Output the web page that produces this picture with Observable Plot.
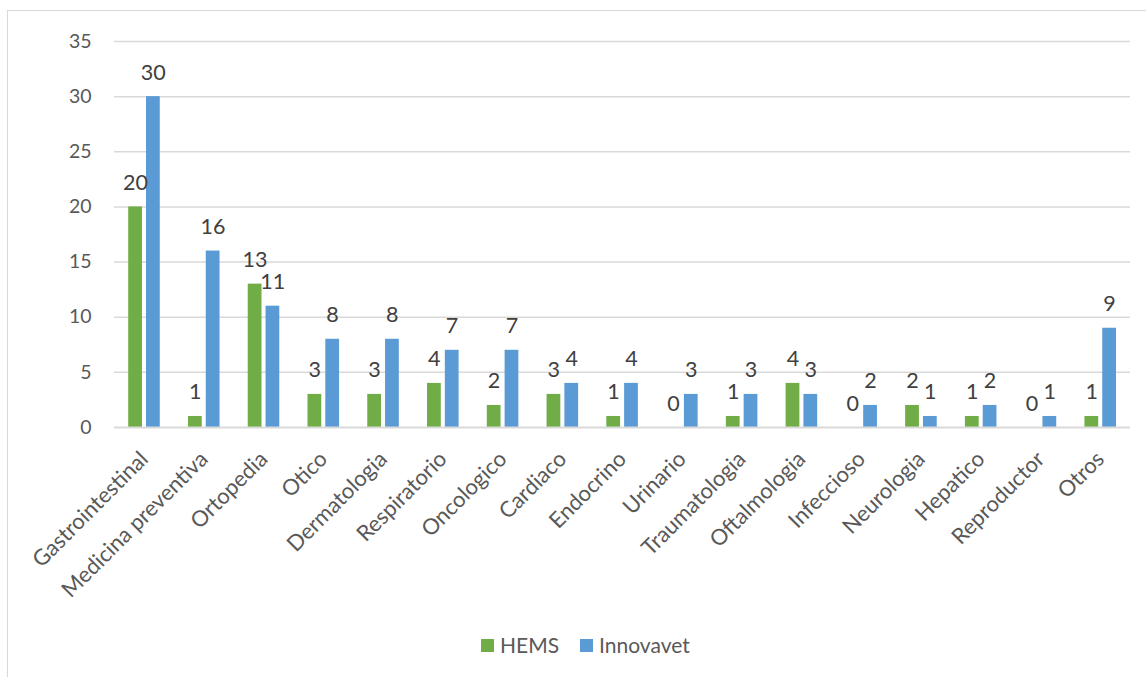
<!DOCTYPE html>
<html>
<head>
<meta charset="utf-8">
<script src="https://cdn.jsdelivr.net/npm/d3@7"></script>
<script src="https://cdn.jsdelivr.net/npm/@observablehq/plot@0.6"></script>
<style>
  html, body { margin: 0; padding: 0; background: #fff; overflow: hidden; }
  #frame { position: absolute; left: 7px; top: 10px; width: 1200px; height: 800px; border: 1.5px solid #d9d9d9; box-sizing: border-box; }
  #chart { position: absolute; left: 0; top: 0; }
  #legend { position: absolute; top: 631px; left: 481px; display: flex; align-items: center; font-family: Lato, "Open Sans", sans-serif; font-size: 21px; color: #595959; line-height: 28px; }
  .sw { width: 13px; height: 13px; display: inline-block; margin-right: 6px; }
  .item { display: flex; align-items: center; margin-right: 21px; }
</style>
</head>
<body>
<div id="frame"></div>
<div id="chart"></div>
<div id="legend"></div>
<script>
const categories = ["Gastrointestinal","Medicina preventiva","Ortopedia","Otico","Dermatologia","Respiratorio","Oncologico","Cardiaco","Endocrino","Urinario","Traumatologia","Oftalmologia","Infeccioso","Neurologia","Hepatico","Reproductor","Otros"];
const hems = [20,1,13,3,3,4,2,3,1,0,1,4,0,2,1,0,1];
const innovavet = [30,16,11,8,8,7,7,4,4,3,3,3,2,1,2,1,9];
const series = ["HEMS","Innovavet"];
const colors = ["#70ad47","#5b9bd5"];
const yTicks = [0,5,10,15,20,25,30,35];

const rowsH = categories.map((c,i) => ({cat: c, value: hems[i]}));
const rowsI = categories.map((c,i) => ({cat: c, value: innovavet[i]}));

const font = "Lato, 'Open Sans', sans-serif";
const chart = Plot.plot({
  width: 1146,
  height: 600,
  marginLeft: 114,
  marginRight: 16,
  marginTop: 41,
  marginBottom: 173,
  style: {fontFamily: font, fontSize: "19px", color: "#595959", background: "transparent", overflow: "visible"},
  x: {domain: categories, padding: 0, round: false, label: null},
  y: {domain: [0,35], label: null},
  marks: [
    Plot.gridY(yTicks.filter(d => d > 0), {stroke: "#d9d9d9", strokeOpacity: 1, strokeWidth: 1.5}),
    Plot.axisY(yTicks, {tickSize: 0, tickPadding: 23, fontSize: 19.5, fill: "#595959", label: null}),
    Plot.axisX({tickSize: 0, tickRotate: -45, tickPadding: 15, dy: 13, fontSize: 22, fill: "#595959", label: null}),
    Plot.barY(rowsH, {x: "cat", y: "value", fill: colors[0], insetLeft: 14.2, insetRight: 31.8}),
    Plot.barY(rowsI, {x: "cat", y: "value", fill: colors[1], insetLeft: 32, insetRight: 14}),
    Plot.ruleY([0], {stroke: "#d9d9d9", strokeWidth: 2}),
    Plot.text(rowsH, {x: "cat", y: "value", text: d => String(d.value), dx: -8.9, dy: -17, lineAnchor: "bottom", fill: "#404040", fontSize: 21.5}),
    Plot.text(rowsI, {x: "cat", y: "value", text: d => String(d.value), dx: 8.9, dy: -17, lineAnchor: "bottom", fill: "#404040", fontSize: 21.5})
  ]
});
document.getElementById("chart").appendChild(chart);

const legend = document.getElementById("legend");
series.forEach((s,i) => {
  const it = document.createElement("div");
  it.className = "item";
  const sw = document.createElement("span");
  sw.className = "sw";
  sw.style.background = colors[i];
  it.appendChild(sw);
  it.appendChild(document.createTextNode(s));
  legend.appendChild(it);
});
</script>
</body>
</html>
